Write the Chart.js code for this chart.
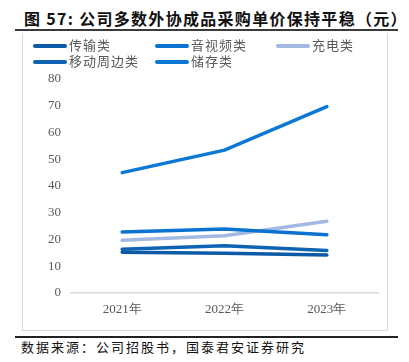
<!DOCTYPE html>
<html>
<head>
<meta charset="utf-8">
<script src="https://cdn.jsdelivr.net/npm/chart.js@4/dist/chart.umd.min.js"></script>
<style>
  body { margin: 0; width: 409px; height: 362px; background: #fff; position: relative; overflow: hidden;
         font-family: "Liberation Serif", "Noto Sans CJK SC", serif; }
  #title { position: absolute; left: 15px; top: 7px; width: 383px; height: 24px; border-bottom: 2px solid #3a3a3a;
           font-family: "Noto Sans CJK SC", sans-serif; font-weight: bold; font-size: 16px; color: #111;
           line-height: 23px; padding-left: 9px; box-sizing: border-box; letter-spacing: 1.3px; white-space: nowrap; }
  #box { position: absolute; left: 22px; top: 33px; width: 366px; height: 298px; border: 1px solid #d9d9d9;
         border-top: none; box-sizing: border-box; }
  #legend { position: absolute; left: 10px; top: 4px; width: 350px; font-family: "Noto Sans CJK SC", sans-serif;
            font-size: 13px; color: #595959; }
  .item { position: absolute; height: 16px; line-height: 16px; white-space: nowrap; letter-spacing: 1px; }
  .swatch { display: inline-block; width: 34px; height: 4px; border-radius: 2px; vertical-align: middle; margin-right: 2px; }
  #wrap { position: absolute; left: 0; top: 0; width: 364px; height: 297px; }
  #footer { position: absolute; left: 15px; top: 336px; width: 383px; border-top: 2px solid #222;
            font-family: "Noto Sans CJK SC", sans-serif; font-size: 13px; color: #111; padding-left: 6px;
            box-sizing: border-box; line-height: 18px; letter-spacing: 2px; white-space: nowrap; }
</style>
</head>
<body>
<div id="title">图 57: 公司多数外协成品采购单价保持平稳（元）</div>
<div id="box">
  <div id="wrap"><canvas id="chart" width="364" height="297"></canvas></div>
  <div id="legend"></div>
</div>
<div id="footer">数据来源：公司招股书，国泰君安证券研究</div>
<script>
// 年份
const years = ["2021年", "2022年", "2023年"];

// 各品类单价（元）
const chuanshu = [15.2, 14.9, 14.2];     // 传输类
const yinshipin = [22.8, 23.9, 21.8];    // 音视频类
const chongdian = [19.7, 21.4, 26.8];    // 充电类
const yidong = [16.4, 17.7, 15.9];       // 移动周边类
const cunchu = [45.0, 53.4, 69.7];       // 储存类

const seriesNames = ["传输类", "音视频类", "充电类", "移动周边类", "储存类"];
const seriesData = [chuanshu, yinshipin, chongdian, yidong, cunchu];
const seriesColors = ["#0b5aa8", "#0a72cf", "#a3b9e2", "#0e64b3", "#0b78d6"];

const datasets = seriesNames.map((name, i) => ({
  label: name,
  data: seriesData[i],
  borderColor: seriesColors[i],
  backgroundColor: seriesColors[i],
  borderWidth: 3.5,
  pointRadius: 0,
  tension: 0,
  borderCapStyle: "round",
}));

const chart = new Chart(document.getElementById("chart"), {
  type: "line",
  data: { labels: years, datasets: datasets },
  options: {
    responsive: false,
    animation: false,
    layout: { padding: { top: 46, right: 9, left: 0, bottom: 0 } },
    plugins: { legend: { display: false }, tooltip: { enabled: false } },
    scales: {
      x: {
        offset: true,
        grid: { display: false, drawTicks: false },
        border: { color: "#d9d9d9", width: 1.5 },
        ticks: { color: "#595959", padding: 9, font: { family: "Liberation Serif", size: 13 } },
        afterFit: (s) => { s.height = 37; },
      },
      y: {
        min: 0,
        max: 80,
        ticks: { stepSize: 10, color: "#595959", padding: 10, font: { family: "Liberation Serif", size: 13 } },
        grid: { display: false, drawTicks: false },
        border: { display: false },
        afterFit: (s) => { s.width = 48; },
      },
    },
  },
});

// 图例（三列排布）
const legend = document.getElementById("legend");
const cols = [0, 122, 243];
chart.data.datasets.forEach((ds, i) => {
  const el = document.createElement("div");
  el.className = "item";
  el.style.left = cols[i % 3] + "px";
  el.style.top = (Math.floor(i / 3) * 16) + "px";
  el.innerHTML = '<span class="swatch" style="background:' + ds.borderColor + '"></span>' + ds.label;
  legend.appendChild(el);
});
</script>
</body>
</html>
